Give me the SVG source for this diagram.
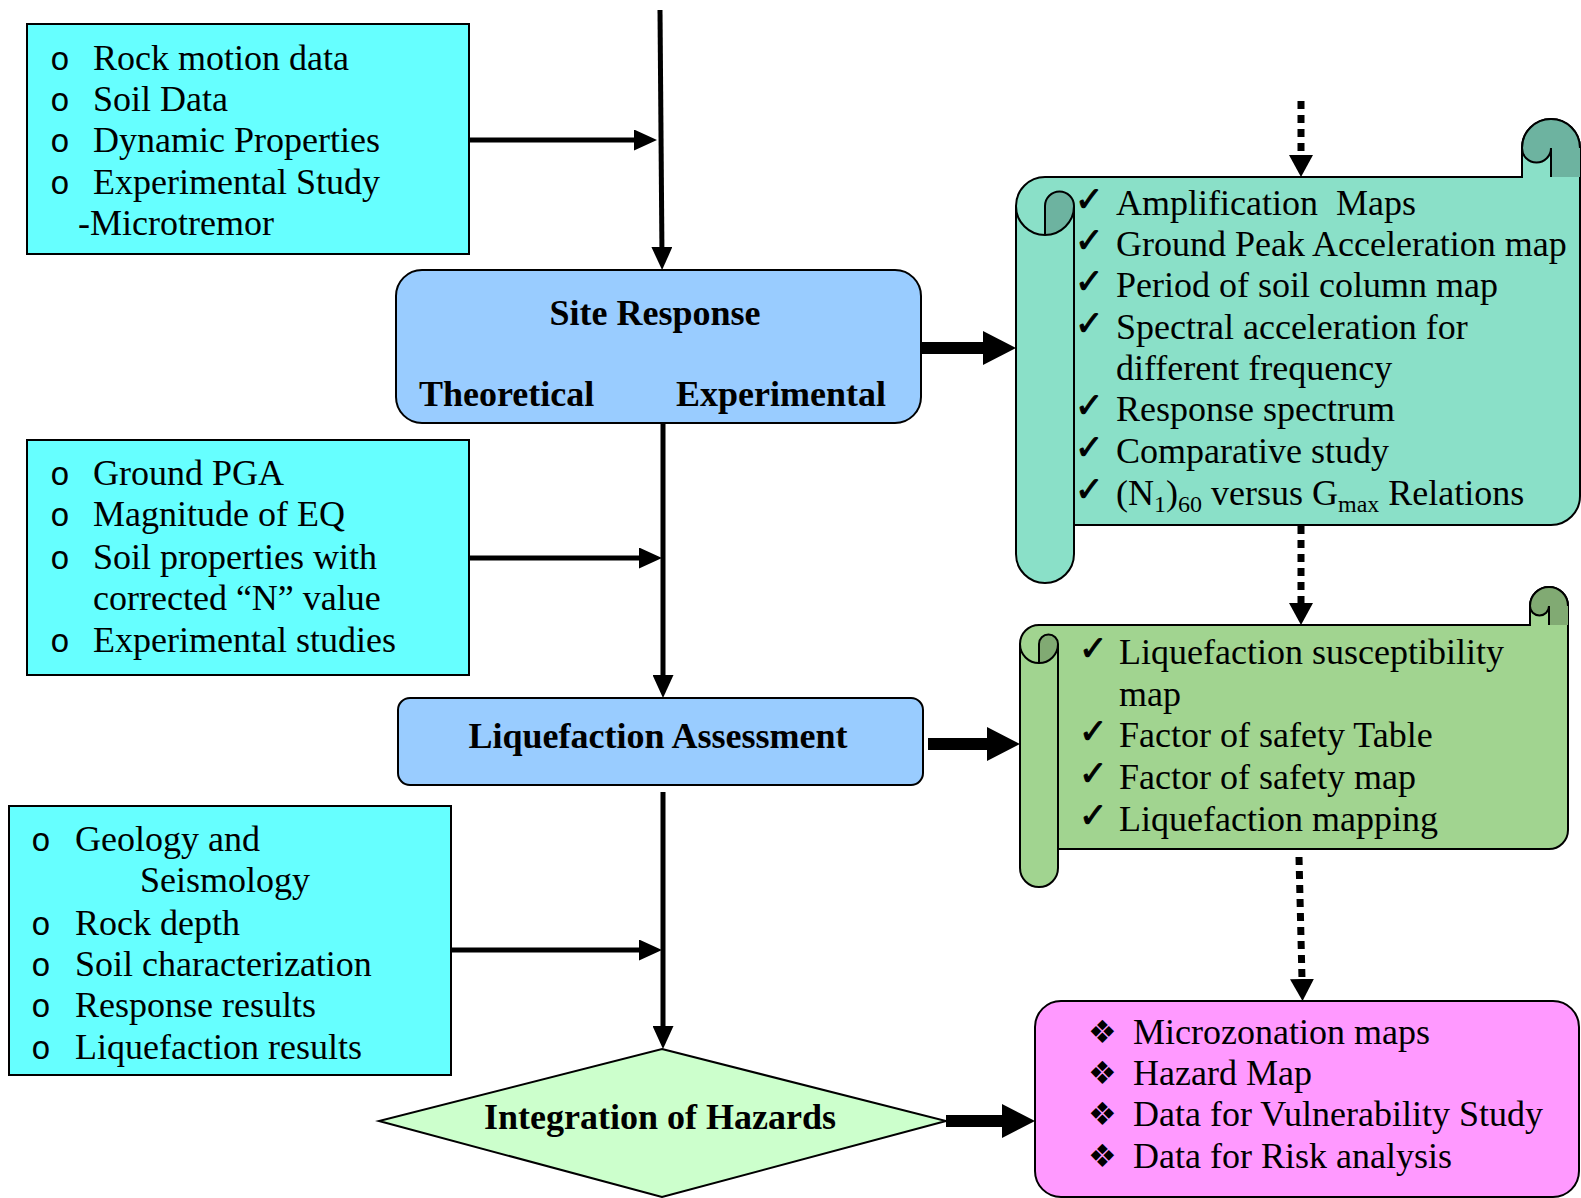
<svg xmlns="http://www.w3.org/2000/svg" width="1581" height="1198" viewBox="0 0 1581 1198">
<style>
.t{font-family:"Liberation Serif","Times New Roman",serif;font-size:36px;fill:#000}
.b{font-family:"Liberation Serif","Times New Roman",serif;font-size:36px;font-weight:bold;fill:#000}
.o{font-family:"Liberation Mono","Courier New",monospace;font-size:33px;fill:#000}
.ck{font-family:"DejaVu Sans",sans-serif;font-size:34px;fill:#000;stroke:#000;stroke-width:1}
.dm{font-family:"DejaVu Sans",sans-serif;font-size:32px;fill:#000}
.sub{font-size:24px}
.cyan{fill:#66ffff;stroke:#000;stroke-width:2}
.ln{stroke:#000;stroke-width:2;fill:none}
.thin{stroke:#000;stroke-width:5;fill:none}
.thick{stroke:#000;stroke-width:12;fill:none}
.dot{stroke:#000;stroke-width:7;fill:none;stroke-dasharray:8 6}
</style>
<defs>
<marker id="ah" markerUnits="userSpaceOnUse" markerWidth="23" markerHeight="21" refX="10" refY="10.5" orient="auto">
<path d="M0,0 L23,10.5 L0,21 Z" fill="#000"/>
</marker>
<marker id="ahT" markerUnits="userSpaceOnUse" markerWidth="33" markerHeight="34" refX="13" refY="17" orient="auto">
<path d="M0,0 L33,17 L0,34 Z" fill="#000"/>
</marker>
<marker id="ahD" markerUnits="userSpaceOnUse" markerWidth="22" markerHeight="24" refX="0" refY="12" orient="auto">
<path d="M0,0 L22,12 L0,24 Z" fill="#000"/>
</marker>
</defs>

<g id="connectors">
<line class="thin" x1="660" y1="10" x2="662" y2="257" marker-end="url(#ah)"/>
<line class="thin" x1="469" y1="140" x2="644" y2="140" marker-end="url(#ah)"/>
<line class="thin" x1="663" y1="423" x2="663" y2="685" marker-end="url(#ah)"/>
<line class="thin" x1="469" y1="558" x2="649" y2="558" marker-end="url(#ah)"/>
<line class="thin" x1="663" y1="792" x2="663" y2="1036" marker-end="url(#ah)"/>
<line class="thin" x1="451" y1="950" x2="649" y2="950" marker-end="url(#ah)"/>
<line class="thick" x1="921" y1="348" x2="996" y2="348" marker-end="url(#ahT)"/>
<line class="thick" x1="928" y1="744" x2="1000" y2="744" marker-end="url(#ahT)"/>
<line class="thick" x1="946" y1="1121" x2="1015" y2="1121" marker-end="url(#ahT)"/>
<line class="dot" x1="1301" y1="101" x2="1301" y2="155" marker-end="url(#ahD)"/>
<line class="dot" x1="1301" y1="526" x2="1301" y2="603" marker-end="url(#ahD)"/>
<line class="dot" x1="1299" y1="857" x2="1302" y2="979" marker-end="url(#ahD)"/>
</g>

<g id="inputs1">
<rect class="cyan" x="27" y="24" width="442" height="230"/>
<text class="o" x="50" y="70">o</text><text class="t" x="93" y="70">Rock motion data</text>
<text class="o" x="50" y="111">o</text><text class="t" x="93" y="111">Soil Data</text>
<text class="o" x="50" y="152">o</text><text class="t" x="93" y="152">Dynamic Properties</text>
<text class="o" x="50" y="194">o</text><text class="t" x="93" y="194">Experimental Study</text>
<text class="t" x="78" y="235">-Microtremor</text>
</g>

<g id="site-response">
<rect x="396" y="270" width="525" height="153" rx="26" fill="#99ccff" stroke="#000" stroke-width="2"/>
<text class="b" x="655" y="325" text-anchor="middle">Site Response</text>
<text class="b" x="419" y="406">Theoretical</text>
<text class="b" x="676" y="406">Experimental</text>
</g>

<g id="inputs2">
<rect class="cyan" x="27" y="440" width="442" height="235"/>
<text class="o" x="50" y="485">o</text><text class="t" x="93" y="485">Ground PGA</text>
<text class="o" x="50" y="526">o</text><text class="t" x="93" y="526">Magnitude of EQ</text>
<text class="o" x="50" y="569">o</text><text class="t" x="93" y="569">Soil properties with</text>
<text class="t" x="93" y="610">corrected “N” value</text>
<text class="o" x="50" y="652">o</text><text class="t" x="93" y="652">Experimental studies</text>
</g>

<g id="liquefaction">
<rect x="398" y="698" width="525" height="87" rx="12" fill="#99ccff" stroke="#000" stroke-width="2"/>
<text class="b" x="658" y="748" text-anchor="middle">Liquefaction Assessment</text>
</g>

<g id="inputs3">
<rect class="cyan" x="9" y="806" width="442" height="269"/>
<text class="o" x="31" y="851">o</text><text class="t" x="75" y="851">Geology and</text>
<text class="t" x="140" y="892">Seismology</text>
<text class="o" x="31" y="935">o</text><text class="t" x="75" y="935">Rock depth</text>
<text class="o" x="31" y="976">o</text><text class="t" x="75" y="976">Soil characterization</text>
<text class="o" x="31" y="1017">o</text><text class="t" x="75" y="1017">Response results</text>
<text class="o" x="31" y="1059">o</text><text class="t" x="75" y="1059">Liquefaction results</text>
</g>

<g id="integration">
<polygon points="662,1049 946,1121 662,1197 379,1121" fill="#ccffcc" stroke="#000" stroke-width="2"/>
<text class="b" x="660" y="1129" text-anchor="middle">Integration of Hazards</text>
</g>

<g id="site-outputs">
<path d="M1016,206 A29,29 0 0 1 1045,177 L1522,177 L1522,148 A29,29 0 0 1 1580,148 L1580,496 A29,29 0 0 1 1551,525 L1074,525 L1074,554 A29,29 0 0 1 1016,554 Z" fill="#8ae0c8" stroke="#000" stroke-width="2"/>
<path d="M1522,148 A29,29 0 0 1 1580,148 L1580,177 L1551,177 L1551,148 A14.5,14.5 0 0 1 1522,148 Z" fill="#6db3a0"/>
<path d="M1045,235 A29,29 0 0 0 1074,206 A14.5,14.5 0 0 0 1045,206 Z" fill="#6db3a0"/>
<path class="ln" d="M1522,148 A29,29 0 0 1 1580,148 M1551,148 A14.5,14.5 0 0 1 1522,148 M1551,148 L1551,177 M1522,148 L1522,177"/>
<path class="ln" d="M1016,206 A29,29 0 0 0 1074,206 M1074,206 A14.5,14.5 0 0 0 1045,206 L1045,235 M1074,206 L1074,554"/>
<text class="ck" x="1075" y="211">✓</text><text class="t" x="1116" y="215">Amplification&#160; Maps</text>
<text class="ck" x="1075" y="252">✓</text><text class="t" x="1116" y="256">Ground Peak Acceleration map</text>
<text class="ck" x="1075" y="293">✓</text><text class="t" x="1116" y="297">Period of soil column map</text>
<text class="ck" x="1075" y="335">✓</text><text class="t" x="1116" y="339">Spectral acceleration for</text>
<text class="t" x="1116" y="380">different frequency</text>
<text class="ck" x="1075" y="417">✓</text><text class="t" x="1116" y="421">Response spectrum</text>
<text class="ck" x="1075" y="459">✓</text><text class="t" x="1116" y="463">Comparative study</text>
<text class="ck" x="1075" y="501">✓</text><text class="t" x="1116" y="505">(N<tspan class="sub" dy="7">1</tspan><tspan dy="-7">)</tspan><tspan class="sub" dy="7">60</tspan><tspan dy="-7"> versus G</tspan><tspan class="sub" dy="7">max</tspan><tspan dy="-7"> Relations</tspan></text>
</g>

<g id="liq-outputs">
<path d="M1020,644 A19,19 0 0 1 1039,625 L1530,625 L1530,606 A19,19 0 0 1 1568,606 L1568,830 A19,19 0 0 1 1549,849 L1058,849 L1058,868 A19,19 0 0 1 1020,868 Z" fill="#a1d490" stroke="#000" stroke-width="2"/>
<path d="M1530,606 A19,19 0 0 1 1568,606 L1568,625 L1549,625 L1549,606 A9.5,9.5 0 0 1 1530,606 Z" fill="#81aa73"/>
<path d="M1039,663 A19,19 0 0 0 1058,644 A9.5,9.5 0 0 0 1039,644 Z" fill="#81aa73"/>
<path class="ln" d="M1530,606 A19,19 0 0 1 1568,606 M1549,606 A9.5,9.5 0 0 1 1530,606 M1549,606 L1549,625 M1530,606 L1530,625"/>
<path class="ln" d="M1020,644 A19,19 0 0 0 1058,644 M1058,644 A9.5,9.5 0 0 0 1039,644 L1039,663 M1058,644 L1058,868"/>
<text class="ck" x="1079" y="660">✓</text><text class="t" x="1119" y="664">Liquefaction susceptibility</text>
<text class="t" x="1119" y="706">map</text>
<text class="ck" x="1079" y="743">✓</text><text class="t" x="1119" y="747">Factor of safety Table</text>
<text class="ck" x="1079" y="785">✓</text><text class="t" x="1119" y="789">Factor of safety map</text>
<text class="ck" x="1079" y="827">✓</text><text class="t" x="1119" y="831">Liquefaction mapping</text>
</g>

<g id="final-outputs">
<rect x="1035" y="1001" width="544" height="196" rx="26" fill="#ff99ff" stroke="#000" stroke-width="2"/>
<text class="dm" x="1088" y="1043">❖</text><text class="t" x="1133" y="1044">Microzonation maps</text>
<text class="dm" x="1088" y="1084">❖</text><text class="t" x="1133" y="1085">Hazard Map</text>
<text class="dm" x="1088" y="1125">❖</text><text class="t" x="1133" y="1126">Data for Vulnerability Study</text>
<text class="dm" x="1088" y="1167">❖</text><text class="t" x="1133" y="1168">Data for Risk analysis</text>
</g>
</svg>
